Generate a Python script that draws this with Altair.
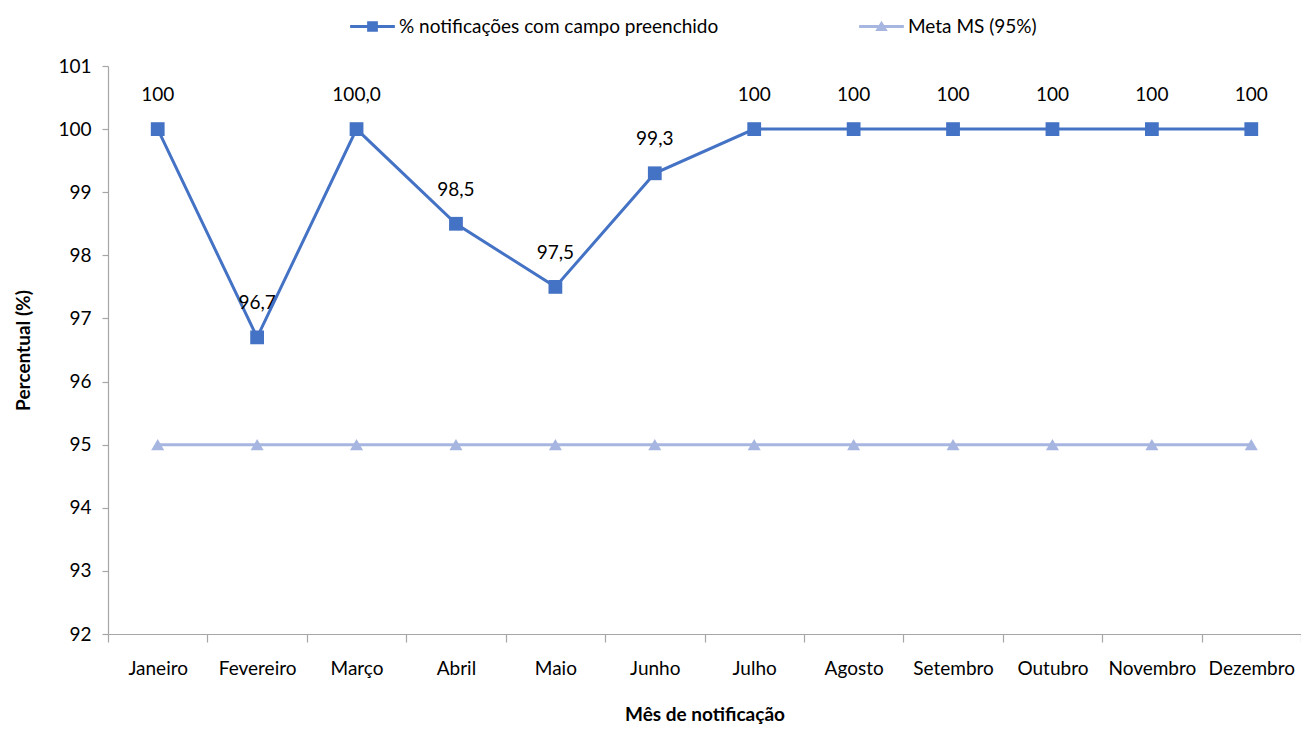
import altair as alt
import pandas as pd

meses = ["Janeiro", "Fevereiro", "Março", "Abril", "Maio", "Junho", "Julho",
         "Agosto", "Setembro", "Outubro", "Novembro", "Dezembro"]
percentual = [100, 96.7, 100.0, 98.5, 97.5, 99.3, 100, 100, 100, 100, 100, 100]
rotulos = ["100", "96,7", "100,0", "98,5", "97,5", "99,3", "100", "100", "100", "100", "100", "100"]
meta = [95] * 12
serie1 = "% notificações com campo preenchido"
serie2 = "Meta MS (95%)"

AZUL = "#4472C4"
CLARO = "#A7B6E0"
FONT = "Lato"
FS = 19

df1 = pd.DataFrame({"mes": meses, "valor": percentual, "rotulo": rotulos, "serie": serie1})
df2 = pd.DataFrame({"mes": meses, "valor": meta, "serie": serie2})

x = alt.X("mes:N", sort=meses, title="Mês de notificação",
          scale=alt.Scale(type="band", paddingInner=0, paddingOuter=0),
          axis=alt.Axis(labelAngle=0, tickBand="extent", tickSize=8, labelPadding=17,
                        titlePadding=27, labelFontSize=FS, titleFontSize=FS,
                        titleFontWeight="bold"))
y = alt.Y("valor:Q", title="Percentual (%)",
          scale=alt.Scale(domain=[92, 101], nice=False, zero=False),
          axis=alt.Axis(values=list(range(92, 102)), tickSize=6, labelPadding=11,
                        titlePadding=24, labelFontSize=FS, titleFontSize=FS,
                        titleFontWeight="bold", grid=False))

SQ = ("M-1,-0.07L1,-0.07L1,0.07L-1,0.07Z"
      "M-0.24,-0.24L0.24,-0.24L0.24,0.24L-0.24,0.24Z")
TRI = ("M-1,-0.07L1,-0.07L1,0.07L-1,0.07Z"
       "M0,-0.26L0.28,0.2L-0.28,0.2Z")

leg = dict(title=None, orient="none", legendY=-62, symbolSize=2000, labelFontSize=FS,
           labelFont=FONT, padding=0, labelOffset=4, labelLimit=0,
           symbolStrokeWidth=0, symbolOpacity=1, labelColor="#000000")

linha2 = alt.Chart(df2).mark_line(color=CLARO, strokeWidth=3).encode(x=x, y=y)
pontos2 = alt.Chart(df2).mark_point(shape="triangle-up", filled=True, size=170, opacity=1).encode(
    x=x, y=y,
    fill=alt.Fill("serie:N", scale=alt.Scale(domain=[serie2], range=[CLARO]),
                  legend=alt.Legend(legendX=751, symbolType=TRI, **leg)))
linha1 = alt.Chart(df1).mark_line(color=AZUL, strokeWidth=3).encode(x=x, y=y)
pontos1 = alt.Chart(df1).mark_point(shape="square", filled=True, size=190, opacity=1).encode(
    x=x, y=y,
    color=alt.Color("serie:N", scale=alt.Scale(domain=[serie1], range=[AZUL]),
                    legend=alt.Legend(legendX=242, symbolType=SQ, **leg)))
textos = alt.Chart(df1).mark_text(dy=-34, fontSize=FS, font=FONT, color="#000000").encode(
    x=x, y=y, text="rotulo:N")

chart = alt.layer(linha2, pontos2, linha1, pontos1, textos).properties(
    width=1193, height=568,
    autosize=alt.AutoSizeParams(type="none"),
    padding={"left": 100, "top": 58, "right": 0, "bottom": 94},
).configure_view(stroke=None).configure_axis(
    domainColor="#A6A6A6", tickColor="#A6A6A6", domainWidth=1.2, tickWidth=1.2,
    labelColor="#000000", titleColor="#000000", labelFont=FONT, titleFont=FONT
).resolve_scale(color="independent", fill="independent")

chart.save("out.html", embed_options={"renderer": "svg", "actions": False})
